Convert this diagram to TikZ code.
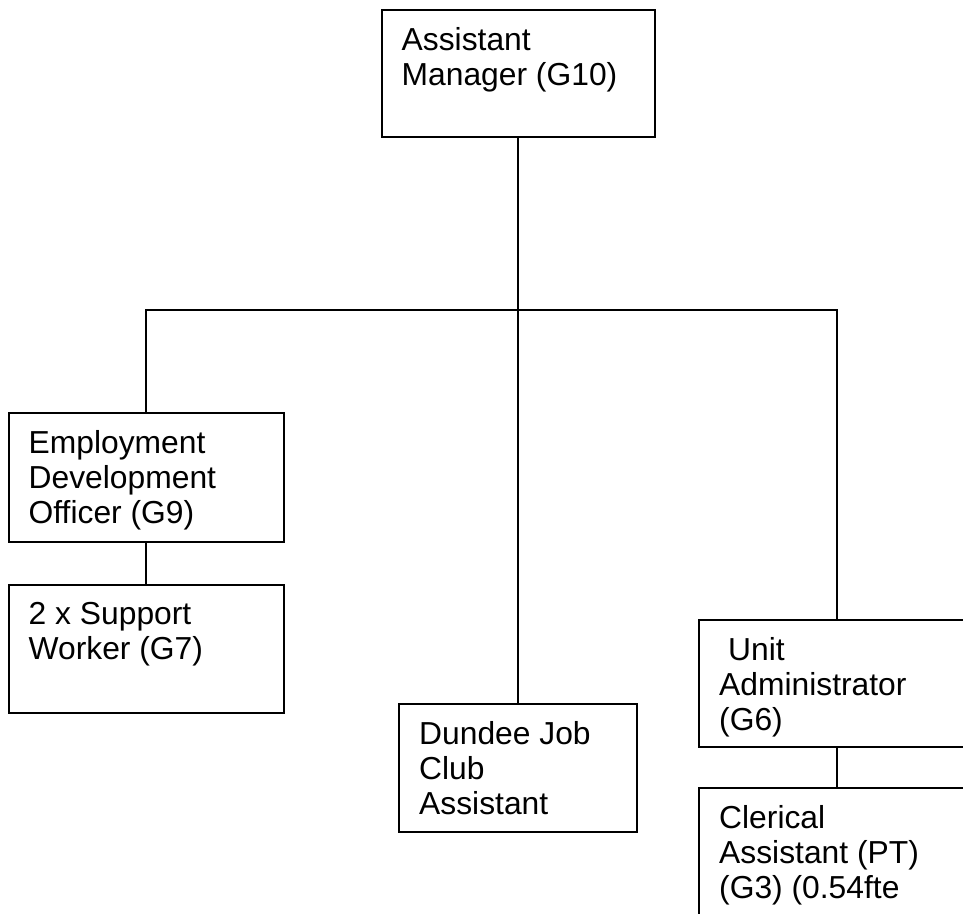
\documentclass[tikz,border=0pt]{standalone}
\usepackage{fontspec}
\setmainfont{Liberation Sans}
\begin{document}
\begin{tikzpicture}[x=1pt,y=-1pt,
  box/.style={draw=black,line width=2pt,rectangle,inner sep=0pt},
  label/.style={anchor=north west,inner sep=0pt,align=left,
    font=\fontsize{31.8}{35}\selectfont,xshift=21pt,yshift=-18.5pt},
  link/.style={draw=black,line width=1.8pt}]
\useasboundingbox (0,0) rectangle (963,913);
\clip (0,0) rectangle (963,913);
% boxes
\node[box,minimum width=273pt,minimum height=127pt] (top) at (518,73.5) {};
\node[box,minimum width=275pt,minimum height=129pt] (edo) at (146,477.5) {};
\node[box,minimum width=275pt,minimum height=128pt] (sup) at (146,649) {};
\node[box,minimum width=238pt,minimum height=128pt] (djc) at (518,768) {};
\node[box,minimum width=276pt,minimum height=127pt] (unit) at (837,683.5) {};
\node[box,minimum width=276pt,minimum height=150pt] (cler) at (837,863) {};
% texts
\node[label] (ttop) at (top.north west) {Assistant\\Manager (G10)};
\node[label] (tedo) at (edo.north west) {Employment\\Development\\Officer (G9)};
\node[label] (tsup) at (sup.north west) {2 x Support\\Worker (G7)};
\node[label] (tdjc) at (djc.north west) {Dundee Job\\Club\\Assistant};
\node[label] (tunit) at (unit.north west) {\hspace*{9pt}Unit\\Administrator\\(G6)};
\node[label] (tcler) at (cler.north west) {Clerical\\Assistant (PT)\\(G3) (0.54fte};
% connectors
\coordinate (bus) at (518,310);
\draw[link] (top.south) -- (bus);
\draw[link] (bus) -| (edo.north);
\draw[link] (bus) -| (unit.north);
\draw[link] (bus) -- (djc.north);
\draw[link] (edo.south) -- (sup.north);
\draw[link] (unit.south) -- (cler.north);
\end{tikzpicture}
\end{document}
